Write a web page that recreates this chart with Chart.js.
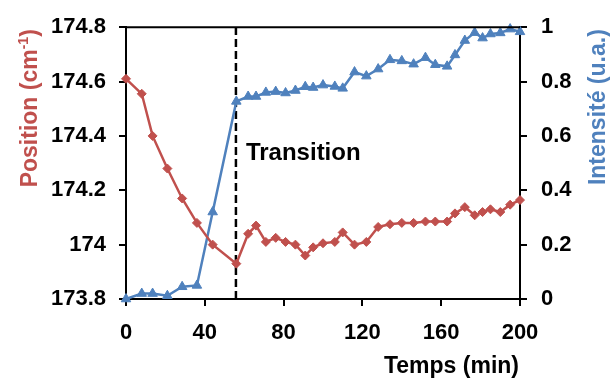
<!DOCTYPE html>
<html>
<head>
<meta charset="utf-8">
<script src="https://cdn.jsdelivr.net/npm/chart.js@4"></script>
<style>
  body { margin: 0; background: #fff; }
  canvas { display: block; }
</style>
</head>
<body>
<canvas id="chart" width="610" height="382"></canvas>
<script>
// Data
const times = [0, 8, 13.5, 21, 28.5, 36, 44, 56, 62, 66, 71, 76, 81, 86, 91, 95, 100, 106, 110, 116,
               122, 128, 134, 140, 146, 152, 157, 163, 167, 172, 177, 181, 185, 190, 195, 200];
const position = [174.61, 174.555, 174.40, 174.28, 174.17, 174.08, 174.0, 173.93, 174.04, 174.07,
                  174.01, 174.025, 174.01, 174.0, 173.96, 173.99, 174.005, 174.01, 174.045, 174.0,
                  174.01, 174.065, 174.075, 174.08, 174.08, 174.085, 174.085, 174.085, 174.115, 174.138,
                  174.108, 174.12, 174.13, 174.12, 174.147, 174.164];
const intensity = [0, 0.02, 0.02, 0.012, 0.045, 0.05, 0.32, 0.727, 0.745, 0.745,
                   0.76, 0.763, 0.758, 0.767, 0.781, 0.778, 0.787, 0.782, 0.775, 0.835,
                   0.82, 0.846, 0.88, 0.876, 0.864, 0.888, 0.862, 0.856, 0.898, 0.951,
                   0.98, 0.96, 0.975, 0.979, 0.993, 0.983];
const transitionTime = 55.8;
const xTicks = [0, 40, 80, 120, 160, 200];
const leftTicks = [173.8, 174.0, 174.2, 174.4, 174.6, 174.8];
const rightTicks = [0, 0.2, 0.4, 0.6, 0.8, 1];

const RED = '#C0504D';
const BLUE = '#4F81BD';
const FONT = '"Liberation Sans", Arial, sans-serif';
const tickFont = { family: FONT, size: 22, weight: 'bold' };

// axis titles, frame top edge and the "Transition" label
const decorations = {
    id: 'decorations',
    afterDraw(chart) {
        const ctx = chart.ctx;
        const area = chart.chartArea;
        ctx.save();
        ctx.strokeStyle = '#000';
        ctx.lineWidth = 2;
        ctx.beginPath();
        ctx.moveTo(area.left, area.top);
        ctx.lineTo(area.right, area.top);
        ctx.stroke();

        // left title with superscript
        const big = 'bold 23px ' + FONT;
        const small = 'bold 14px ' + FONT;
        ctx.font = big;
        const w1 = ctx.measureText('Position (cm').width;
        const w3 = ctx.measureText(')').width;
        ctx.font = small;
        const w2 = ctx.measureText('-1').width;
        const total = w1 + w2 + w3;
        ctx.save();
        ctx.translate(29, area.top + 2 + total);
        ctx.rotate(-Math.PI / 2);
        ctx.fillStyle = RED;
        ctx.textBaseline = 'alphabetic';
        ctx.textAlign = 'left';
        ctx.font = big;
        ctx.fillText('Position (cm', 0, 8);
        ctx.font = small;
        ctx.fillText('-1', w1, -1);
        ctx.font = big;
        ctx.fillText(')', w1 + w2, 8);
        ctx.restore();

        // right title
        ctx.save();
        ctx.translate(599, area.top + 2);
        ctx.rotate(-Math.PI / 2);
        ctx.fillStyle = BLUE;
        ctx.font = big;
        ctx.textAlign = 'right';
        ctx.textBaseline = 'middle';
        ctx.fillText('Intensité (u.a.)', 0, 0);
        ctx.restore();

        // x title
        ctx.fillStyle = '#000';
        ctx.font = big;
        ctx.textAlign = 'right';
        ctx.textBaseline = 'middle';
        ctx.fillText('Temps (min)', area.right - 1, 367);

        // Transition label
        const xs = chart.scales.x;
        ctx.font = 'bold 24px ' + FONT;
        ctx.textAlign = 'left';
        ctx.fillText('Transition', xs.getPixelForValue(transitionTime) + 10, 153);
        ctx.restore();
    }
};

function fixedTicks(values) {
    return function (scale) {
        scale.ticks = values.map(v => ({ value: v }));
    };
}

new Chart(document.getElementById('chart').getContext('2d'), {
    type: 'line',
    data: {
        datasets: [
            {
                label: 'Position',
                data: times.map((t, i) => ({ x: t, y: position[i] })),
                yAxisID: 'y',
                borderColor: RED,
                backgroundColor: RED,
                borderWidth: 2.5,
                pointStyle: 'rectRot',
                pointRadius: 4.5,
                pointBorderWidth: 1,
                clip: false,
                order: 1
            },
            {
                label: 'Intensité',
                data: times.map((t, i) => ({ x: t, y: intensity[i] })),
                yAxisID: 'y1',
                borderColor: BLUE,
                backgroundColor: BLUE,
                borderWidth: 2.5,
                pointStyle: 'triangle',
                pointRadius: 5.5,
                pointBorderWidth: 1,
                clip: false,
                order: 2
            },
            {
                label: 'Transition',
                data: [{ x: transitionTime, y: leftTicks[0] }, { x: transitionTime, y: leftTicks[leftTicks.length - 1] }],
                yAxisID: 'y',
                borderColor: '#000',
                borderWidth: 2.5,
                borderDash: [8, 4],
                pointRadius: 0,
                order: 3
            }
        ]
    },
    options: {
        responsive: false,
        animation: false,
        layout: { padding: { top: 19, right: 0, left: 0, bottom: 0 } },
        plugins: {
            legend: { display: false },
            tooltip: { enabled: false }
        },
        scales: {
            x: {
                type: 'linear',
                position: 'bottom',
                min: xTicks[0],
                max: xTicks[xTicks.length - 1],
                afterBuildTicks: fixedTicks(xTicks),
                afterFit(scale) { scale.height = 83; },
                grid: { drawOnChartArea: false, drawTicks: true, tickLength: 7, color: '#000', lineWidth: 2 },
                border: { display: true, color: '#000', width: 2 },
                ticks: { font: tickFont, color: '#000', padding: 14, maxRotation: 0 }
            },
            y: {
                position: 'left',
                min: leftTicks[0],
                max: leftTicks[leftTicks.length - 1],
                afterBuildTicks: fixedTicks(leftTicks),
                afterFit(scale) { scale.width = 126; },
                grid: { drawOnChartArea: false, drawTicks: true, tickLength: 7, color: '#000', lineWidth: 2 },
                border: { display: true, color: '#000', width: 2 },
                ticks: {
                    font: tickFont, color: '#000', padding: 13,
                    callback: v => String(Math.round(v * 10) / 10)
                }
            },
            y1: {
                position: 'right',
                min: rightTicks[0],
                max: rightTicks[rightTicks.length - 1],
                afterBuildTicks: fixedTicks(rightTicks),
                afterFit(scale) { scale.width = 90; },
                grid: { drawOnChartArea: false, drawTicks: true, tickLength: 7, color: '#000', lineWidth: 2 },
                border: { display: true, color: '#000', width: 2 },
                ticks: {
                    font: tickFont, color: '#000', padding: 14,
                    callback: v => String(Math.round(v * 10) / 10)
                }
            }
        }
    },
    plugins: [decorations]
});
</script>
</body>
</html>
